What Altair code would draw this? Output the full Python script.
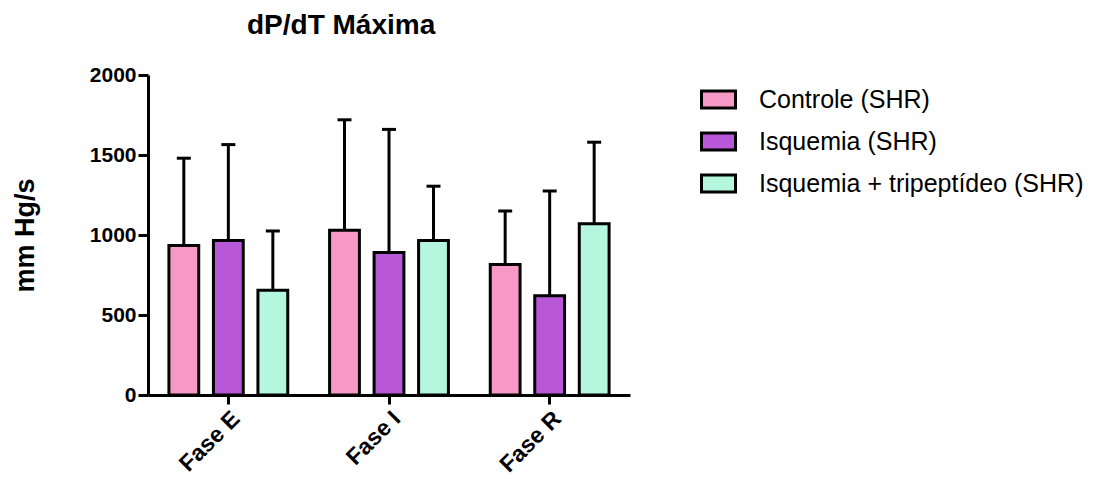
import altair as alt
import pandas as pd

# Fases do protocolo e grupos experimentais
fases = ["Fase E", "Fase I", "Fase R"]
grupos = ["Controle (SHR)", "Isquemia (SHR)", "Isquemia + tripeptídeo (SHR)"]

# Média de dP/dT máxima (mm Hg/s) por fase
controle_media = [935, 1030, 815]
isquemia_media = [965, 890, 620]
tripep_media = [655, 965, 1070]

# Desvio padrão (barra de erro superior)
controle_dp = [545, 690, 335]
isquemia_dp = [600, 770, 655]
tripep_dp = [370, 340, 510]

cores = ["#F799C6", "#B857D8", "#B5F6DF"]

linhas = []
for grupo, medias, dps in [
    (grupos[0], controle_media, controle_dp),
    (grupos[1], isquemia_media, isquemia_dp),
    (grupos[2], tripep_media, tripep_dp),
]:
    for fase, m, d in zip(fases, medias, dps):
        linhas.append({"fase": fase, "grupo": grupo, "media": m, "topo": m + d})
df = pd.DataFrame(linhas)

x_enc = alt.X(
    "fase:N",
    sort=fases,
    scale=alt.Scale(paddingInner=0, paddingOuter=0),
    axis=alt.Axis(
        title=None,
        labelAngle=-45,
        labelAlign="right",
        labelBaseline="top",
        labelFontSize=23,
        labelFontWeight="bold",
        labelPadding=3,
        tickSize=9,
        tickWidth=3,
        domainWidth=3,
    ),
)
off_enc = alt.XOffset(
    "grupo:N",
    sort=grupos,
    scale=alt.Scale(paddingInner=0.33, paddingOuter=0.47),
)
y_scale = alt.Scale(domain=[0, 2000], nice=False)

base = alt.Chart(df).encode(x=x_enc, xOffset=off_enc)

erro = base.mark_rule(color="black", strokeWidth=3).encode(
    y=alt.Y("media:Q", scale=y_scale),
    y2="topo:Q",
)
tampa = base.mark_tick(color="black", thickness=3, size=14, opacity=1).encode(
    y=alt.Y("topo:Q", scale=y_scale),
)
barras = base.mark_bar(stroke="black", strokeWidth=3, opacity=1).encode(
    y=alt.Y(
        "media:Q",
        scale=y_scale,
        axis=alt.Axis(
            title="mm Hg/s",
            values=[0, 500, 1000, 1500, 2000],
            format="d",
            grid=False,
            labelFontSize=21,
            labelFontWeight="bold",
            labelPadding=2,
            tickSize=10,
            tickWidth=3,
            domainWidth=3,
            titleFontSize=27,
            titleFontWeight="bold",
            titleAngle=-90,
            titleAlign="center",
            titleBaseline="top",
            titleX=-136,
            titleY=160,
        ),
    ),
    color=alt.Color(
        "grupo:N",
        sort=grupos,
        scale=alt.Scale(domain=grupos, range=cores),
        legend=alt.Legend(
            title=None,
            orient="none",
            legendX=552,
            legendY=6,
            padding=0,
            symbolType="M-1,-0.5H1V0.5H-1Z",
            symbolSize=1156,
            symbolStrokeColor="black",
            symbolStrokeWidth=3,
            symbolOpacity=1,
            labelFontSize=25,
            labelOffset=22,
            rowPadding=9,
            labelLimit=400,
        ),
    ),
)

chart = (
    alt.layer(erro, tampa, barras)
    .properties(
        width=482,
        height=320,
        title=alt.TitleParams(
            "dP/dT Máxima",
            anchor="start",
            frame="group",
            dx=99,
            dy=-20,
            fontSize=28,
            fontWeight="bold",
            color="black",
        ),
        autosize=alt.AutoSizeParams(type="none"),
        padding={"left": 148, "top": 75, "right": 469, "bottom": 84},
    )
    .configure(font="Liberation Sans")
    .configure_axis(
        domainColor="black",
        tickColor="black",
        labelColor="black",
        titleColor="black",
        labelFont="Liberation Sans",
        titleFont="Liberation Sans",
    )
    .configure_legend(labelColor="black", labelFont="Liberation Sans")
    .configure_view(stroke=None)
)

chart.save("out.html", embed_options={"renderer": "svg", "actions": False})
